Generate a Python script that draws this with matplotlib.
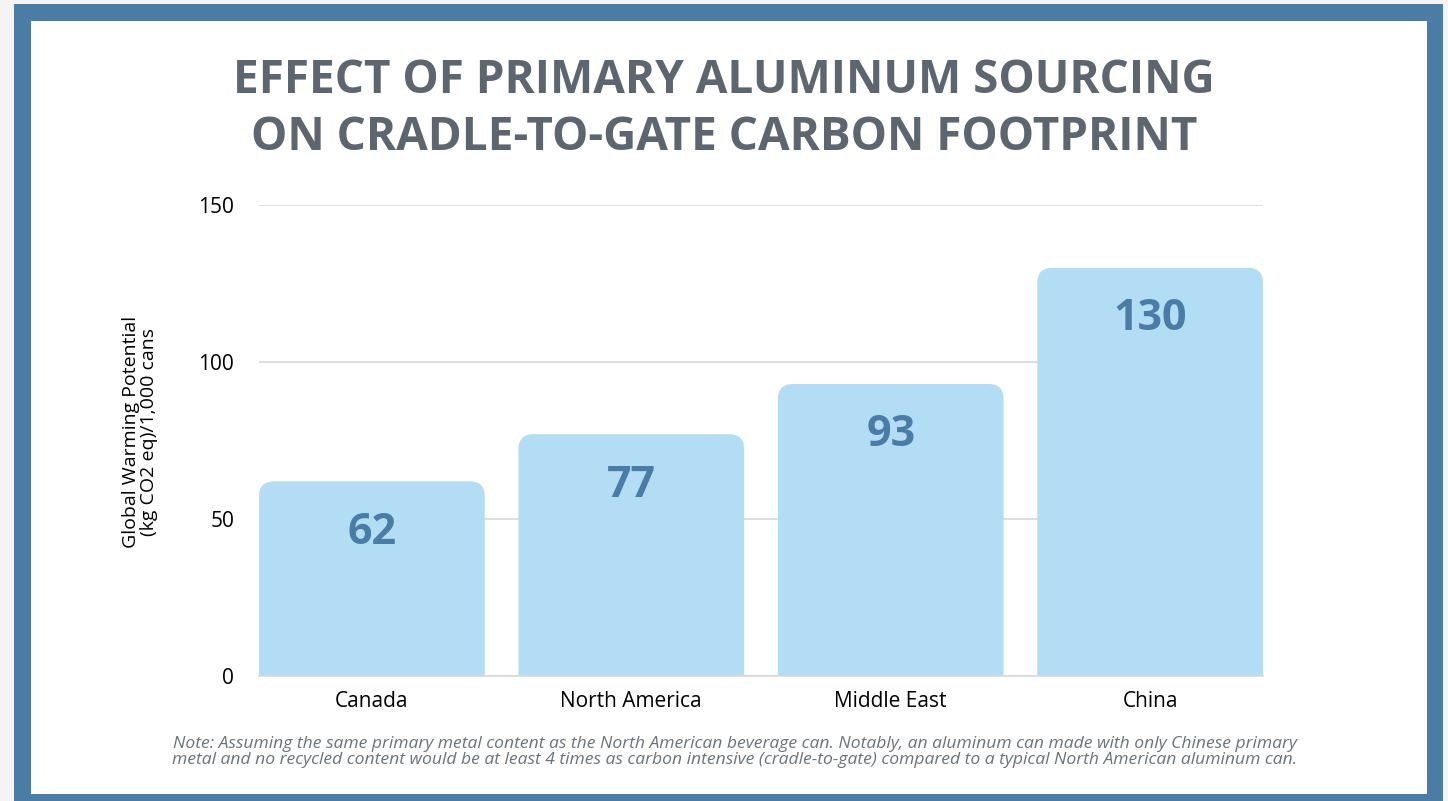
import numpy as np
import matplotlib.pyplot as plt
from matplotlib.patches import FancyBboxPatch, Rectangle

regions = ['Canada', 'North America', 'Middle East', 'China']
gwp = [62, 77, 93, 130]
yticks = [0, 50, 100, 150]

title = 'EFFECT OF PRIMARY ALUMINUM SOURCING\nON CRADLE-TO-GATE CARBON FOOTPRINT'
ylabel = 'Global Warming Potential\n(kg CO2 eq)/1,000 cans'
note = ('Note: Assuming the same primary metal content as the North American beverage can. '
        'Notably, an aluminum can made with only Chinese primary\n'
        'metal and no recycled content would be at least 4 times as carbon intensive '
        '(cradle-to-gate) compared to a typical North American aluminum can.')

FRAME = '#4a7ca6'
BAR = '#b3ddf5'
LABEL = '#4a7ca6'
TITLE = '#5d666e'

plt.rcParams['font.family'] = ['Open Sans', 'DejaVu Sans']

W, H = 1448, 801
fig = plt.figure(figsize=(W / 100, H / 100), dpi=100)
fig.patch.set_facecolor('#f4f4f4')

# blue frame and white card, kept behind the axes
fig.patches.append(Rectangle((14 / W, 0), (1443 - 14) / W, (801 - 4) / H,
                             transform=fig.transFigure, facecolor=FRAME,
                             edgecolor='none', zorder=-10))
fig.patches.append(Rectangle((31 / W, (801 - 794) / H), (1427 - 31) / W, (794 - 21) / H,
                             transform=fig.transFigure, facecolor='white',
                             edgecolor='none', zorder=-9))

ax = fig.add_axes([259 / W, (801 - 676) / H, (1263 - 259) / W, (676 - 205) / H])
ax.set_facecolor('none')

width = 0.87
x = np.arange(len(regions))
ax.set_xlim(-width / 2, len(regions) - 1 + width / 2)
ax.set_ylim(0, 150)

# rounded-top bars (bottom corners pushed below the axis and clipped)
r_x = 0.058
for xi, v in zip(x, gwp):
    p = FancyBboxPatch((xi - width / 2, -10), width, v + 10,
                       boxstyle='round,pad=0,rounding_size=%f' % r_x,
                       mutation_aspect=4.8 / r_x,
                       facecolor=BAR, edgecolor='none', zorder=2)
    ax.add_patch(p)
    ax.annotate(str(v), (xi, v), xytext=(0, -45), textcoords='offset points',
                ha='center', va='baseline', fontsize=31, fontweight='bold',
                color=LABEL, zorder=3)

ax.set_yticks(yticks)
ax.yaxis.grid(True, color='#d9d9d9', linewidth=1.2, zorder=0)
ax.set_axisbelow(True)
for s in ['top', 'right', 'left']:
    ax.spines[s].set_visible(False)
ax.spines['bottom'].set_color('#d9d9d9')
ax.spines['bottom'].set_linewidth(1.2)
ax.tick_params(axis='both', length=0, labelsize=15, colors='black')
ax.tick_params(axis='y', pad=18)
ax.tick_params(axis='x', pad=11)
ax.set_xticks(x)
ax.set_xticklabels(regions)

fig.text(140 / W, 1 - 432 / H, ylabel, rotation=90, ha='center', va='center',
         fontsize=14, linespacing=1.0)

fig.text(724 / W, 1 - 109 / H, title, ha='center', va='center', fontsize=33,
         fontweight='bold', color=TITLE, linespacing=1.3)

fig.text(735 / W, 1 - 752 / H, note, ha='center', va='center', fontsize=12.6,
         style='italic', color='#6b737a', linespacing=0.95)

fig.savefig('out.png', dpi=100, facecolor=fig.get_facecolor())
